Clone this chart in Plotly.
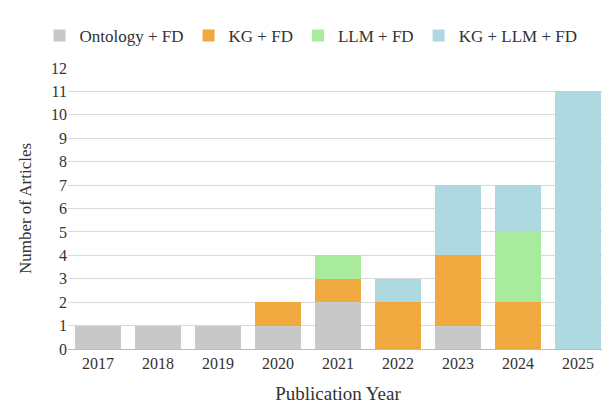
import plotly.graph_objects as go

years = ["2017","2018","2019","2020","2021","2022","2023","2024","2025"]
ontology_fd = [1,1,1,1,2,0,1,0,0]
kg_fd = [0,0,0,1,1,2,3,2,0]
llm_fd = [0,0,0,0,1,0,0,3,0]
kg_llm_fd = [0,0,0,0,0,1,3,2,11]

series = [("Ontology + FD", ontology_fd, "#c8c8c8"),
          ("KG + FD", kg_fd, "#f0a93e"),
          ("LLM + FD", llm_fd, "#a9eb9c"),
          ("KG + LLM + FD", kg_llm_fd, "#afd9e0")]

fig = go.Figure()
for name, vals, col in series:
    fig.add_trace(go.Bar(x=years, y=vals, name=name, marker_color=col, marker_line_width=0))

fig.update_layout(
    barmode="stack", bargap=0.22, width=610, height=403,
    plot_bgcolor="white", paper_bgcolor="white",
    font=dict(family="Times New Roman, Liberation Serif, serif", size=16, color="#333"),
    margin=dict(l=60, r=10, t=48, b=58),
    legend=dict(orientation="h", x=0.45, xanchor="center", y=1.05, yanchor="bottom",
                font=dict(size=17), itemsizing="constant", traceorder="normal"),
    xaxis=dict(title=dict(text="Publication Year", font=dict(size=19)), showline=True,
               linecolor="#bbb", ticks=""),
    yaxis=dict(title=dict(text="Number of Articles", font=dict(size=17)), range=[0,12], dtick=1,
               gridcolor="#d9d9d9", zeroline=False),
)
fig.write_html("out.html")
